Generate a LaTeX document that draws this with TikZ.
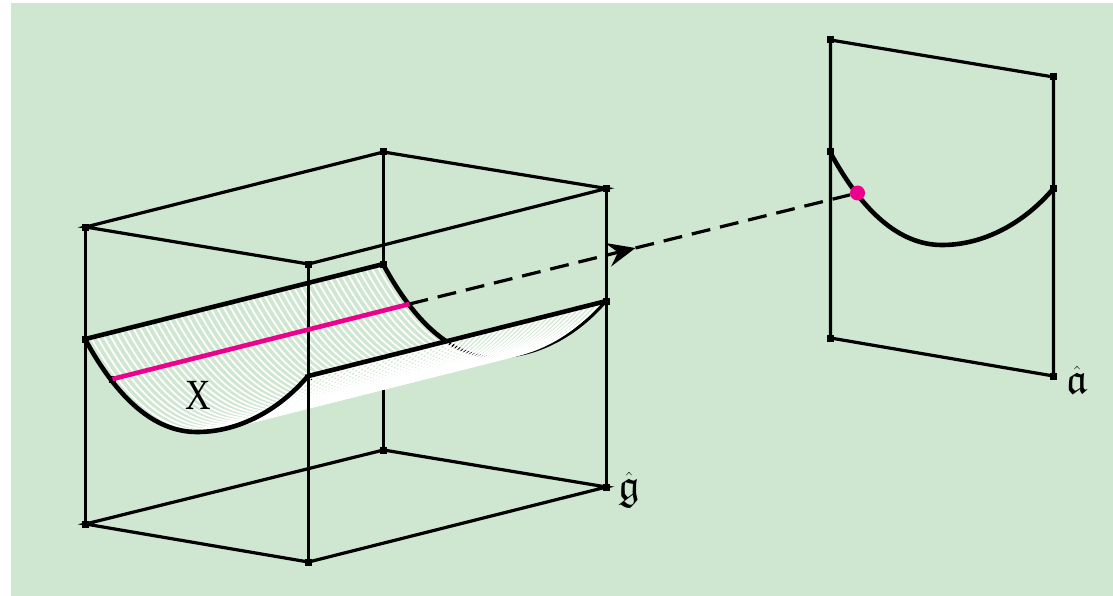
\documentclass[tikz,border=0pt]{standalone}
\usepackage{amssymb}
\usepackage{fontspec}
\newfontfamily\xfont{Liberation Serif}
\usetikzlibrary{arrows.meta}
\definecolor{bgreen}{RGB}{207,230,208}
\definecolor{bpink}{RGB}{236,0,140}
\newcommand{\troughcurve}{(86,339) .. controls (118,398) and (155,432) .. (198,432) .. controls (240,432) and (280,410) .. (309,376)}
\tikzset{
  x=1pt,y=-1pt,
  vtx/.style={draw=none,fill=black,rectangle,inner sep=0pt,minimum size=7pt},
  edge3/.style={line width=3.2pt,black},
  heavy/.style={line width=4.6pt,black,line cap=round},
  ruling/.style={line width=1.8pt,white},
  lab/.style={inner sep=0pt,font=\fontsize{43}{47}\selectfont},
}
\begin{document}
\begin{tikzpicture}
\useasboundingbox (0,0) rectangle (1113,596);
\fill[bgreen] (11,3) rectangle (1113,596);
\begin{scope}[xshift=-0.5pt]
% box corners
\node[vtx] (A) at (86,227) {};
\node[vtx] (B) at (309,264) {};
\node[vtx] (C) at (607,188.5) {};
\node[vtx] (D) at (384,152) {};
\node[vtx] (E) at (86,524) {};
\node[vtx] (F) at (309,562) {};
\node[vtx] (G) at (607,487) {};
\node[vtx] (H) at (384,450) {};
\node[vtx] (P) at (86,339) {};
\node[vtx] (Q) at (309,376) {};
\node[vtx] (R) at (384,264) {};
\node[vtx] (S) at (607,301) {};
\coordinate (hid) at (384,388);
% hidden-side box edges
\draw[edge3] (A.center) -- (B.center) -- (C.center) -- (D.center) -- cycle;
\draw[edge3] (E.center) -- (F.center) -- (G.center) -- (H.center) -- cycle;
\draw[edge3] (A.center) -- (E.center);
\draw[edge3] (C.center) -- (G.center);
\draw[edge3] (D.center) -- (R.center);
\draw[edge3] (H.center) -- (hid);
% back curve
\draw[line width=3pt,black,xshift=297.5pt,yshift=75pt] \troughcurve;
% ruled surface
\foreach \s in {0,0.02,...,0.981}{
  \draw[ruling,xshift=\s*298pt-0.5pt,yshift=\s*75pt] \troughcurve;
}
% back curve, visible part
\begin{scope}
  \clip (309,376) -- (607,301) -- (607,100) -- (309,100) -- cycle;
  \draw[heavy,xshift=297.5pt,yshift=75pt] \troughcurve;
\end{scope}
% front of the box and surface
\draw[edge3] (B.center) -- (F.center);
\draw[heavy] (P.center) -- (R.center);
\draw[heavy] (Q.center) -- (S.center);
\draw[heavy,xshift=-0.5pt] \troughcurve;
% slice
\node[vtx] (U) at (113,379) {};
\node[vtx,minimum size=2pt] (V) at (410,304) {};
\draw[line width=4.6pt,bpink] (U.center) -- (V.center);
% right panel
\node[vtx] (a1) at (831,40) {};
\node[vtx] (a2) at (1054,77) {};
\node[vtx] (a3) at (1054,376) {};
\node[vtx] (a4) at (831,338) {};
\node[vtx] (a5) at (831,152) {};
\node[vtx] (a6) at (1054,189) {};
\draw[edge3] (a1.center) -- (a2.center) -- (a3.center) -- (a4.center) -- cycle;
\draw[heavy,xshift=744.5pt,yshift=187pt] \troughcurve;
% connector
\node[circle,fill=bpink,inner sep=0pt,minimum size=15pt] (dot) at (858,193) {};
\coordinate (tip) at (636,248);
\draw[line width=3.2pt,dash pattern=on 19pt off 10pt,-{Stealth[length=28pt,width=24pt,inset=10pt]}] (V.center) -- (tip);
\draw[line width=3.2pt,dash pattern=on 19pt off 10pt] (tip) -- (dot);
% labels
\node[lab,xscale=.82,font=\fontsize{43}{47}\xfont] (x) at (198.5,395) {X};
\node[lab,anchor=west] (g) at (618.5,490) {$\hat{\mathfrak g}$};
\node[lab,anchor=west] (a) at (1066.5,380) {$\hat{\mathfrak a}$};
\end{scope}
\end{tikzpicture}
\end{document}
